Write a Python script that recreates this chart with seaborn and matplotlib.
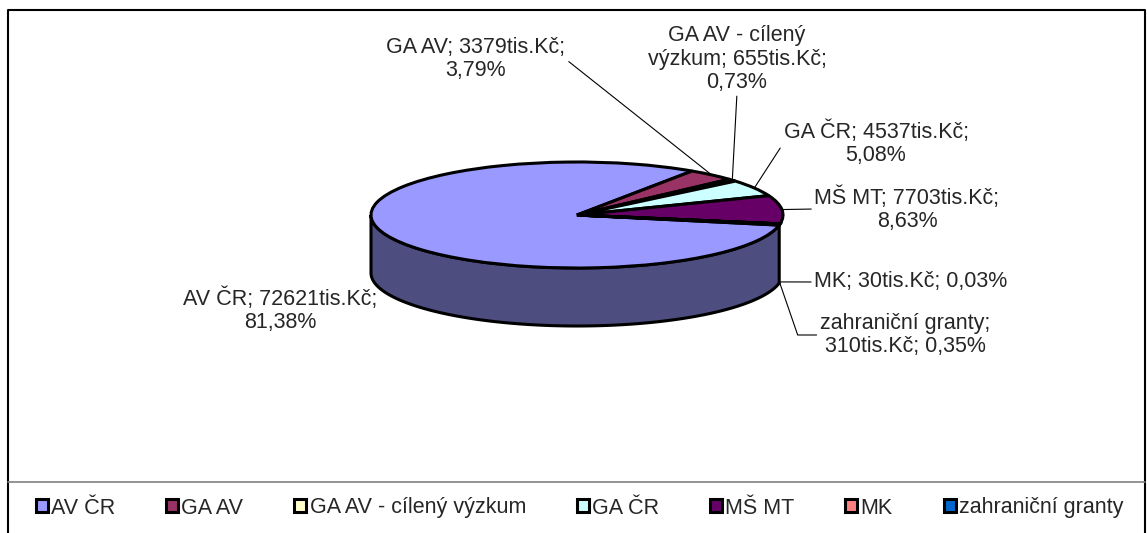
import numpy as np
import seaborn as sns
import matplotlib.pyplot as plt
import matplotlib.colors as mcolors

# data (tis. Kč)
sources = ["AV ČR", "GA AV", "GA AV - cílený výzkum", "GA ČR", "MŠ MT", "MK", "zahraniční granty"]
amounts = [72621, 3379, 655, 4537, 7703, 30, 310]
percents = ["81,38%", "3,79%", "0,73%", "5,08%", "8,63%", "0,03%", "0,35%"]
colors = ["#9999FF", "#993366", "#FFFFCC", "#CCFFFF", "#660066", "#FF8080", "#0066CC"]

sns.set_style("white")
plt.rcParams['font.family'] = ['Liberation Sans', 'DejaVu Sans']
FS = 15.5

W, H = 1147, 533
fig = plt.figure(figsize=(W / 100, H / 100), dpi=100)

# frame of the chart (pixel overlay)
ov = fig.add_axes([0, 0, 1, 1], zorder=-1)
ov.set_xlim(0, W)
ov.set_ylim(H, 0)
ov.axis('off')
ov.plot([8, 8, 1145, 1145], [540, 10, 10, 540], color='black', lw=1.5)
ov.plot([8, 1145], [482, 482], color='#808080', lw=1.2)

# pie geometry in pixels
cx, cy, a, b, depth = 577, 215, 206, 53, 58
D = depth / b
m = 1.15
ax = fig.add_axes([(cx - m * a) / W, (H - (cy + b * (D + m))) / H,
                   2 * m * a / W, b * (D + 2 * m) / H])

pal = sns.color_palette(colors)
wedges, _ = ax.pie(amounts, colors=pal, startangle=-11, counterclock=False,
                   wedgeprops=dict(edgecolor='black', linewidth=2.2, zorder=3))
ax.set_aspect('auto')
ax.set_xlim(-m, m)
ax.set_ylim(-m - D, m)
ax.axis('off')

# side of the 3D pie (front half only)
for w, c in zip(wedges, pal):
    t1, t2 = w.theta1, w.theta2
    for k in (-1, 0, 1):
        lo, hi = max(t1, 180 + 360 * k), min(t2, 360 + 360 * k)
        if hi <= lo:
            continue
        t = np.radians(np.linspace(lo, hi, 120))
        xs = np.concatenate([np.cos(t), np.cos(t[::-1])])
        ys = np.concatenate([np.sin(t), np.sin(t[::-1]) - D])
        dark = tuple(v * 0.5 for v in mcolors.to_rgb(c))
        ax.fill(xs, ys, facecolor=dark, edgecolor='black', lw=2.2, zorder=2)

# data labels
label_texts = [
    "AV ČR; {}tis.Kč;\n{}",
    "GA AV; {}tis.Kč;\n{}",
    "GA AV - cílený\nvýzkum; {}tis.Kč;\n{}",
    "GA ČR; {}tis.Kč;\n{}",
    "MŠ MT; {}tis.Kč;\n{}",
    "MK; {}tis.Kč; {}",
    "zahraniční granty;\n{}tis.Kč; {}",
]
label_pos = [(280, 310), (476, 59), (737, 59), (876, 143), (907, 209), (911, 282), (905, 335)]
rel = [None, (1, 0.5), (0.5, 0), (0, 0.5), (0, 0.5), (0, 0.5), (0, 0.5)]
conn = [None, "arc3", "arc3", "arc3", "arc3", "arc3", "angle,angleA=0,angleB=-71,rad=0"]
on_side = [False, False, False, False, False, True, True]

for w, txt, amt, pct, pos, rp, cs, side in zip(wedges, label_texts, amounts, percents,
                                              label_pos, rel, conn, on_side):
    mid = np.radians((w.theta1 + w.theta2) / 2)
    xy = (np.cos(mid), np.sin(mid) - (D if side else 0))
    s = txt.format(amt, pct)
    if rp is None:
        ax.annotate(s, xy=xy, xytext=(pos[0], H - pos[1]), textcoords='figure pixels',
                    ha='center', va='center', fontsize=FS, linespacing=1.15)
    else:
        ax.annotate(s, xy=xy, xytext=(pos[0], H - pos[1]), textcoords='figure pixels',
                    ha='center', va='center', fontsize=FS, linespacing=1.15,
                    arrowprops=dict(arrowstyle='-', color='black', lw=0.8,
                                    shrinkA=0, shrinkB=0, relpos=rp,
                                    connectionstyle=cs))

fig.legend(wedges, sources, loc='center left', bbox_to_anchor=(36 / W, (H - 508) / H),
           ncol=7, frameon=False, fontsize=FS, handlelength=0.55, handleheight=0.55,
           handletextpad=0.15, columnspacing=2.37, borderpad=0, borderaxespad=0)

fig.savefig("out.png", dpi=100)
